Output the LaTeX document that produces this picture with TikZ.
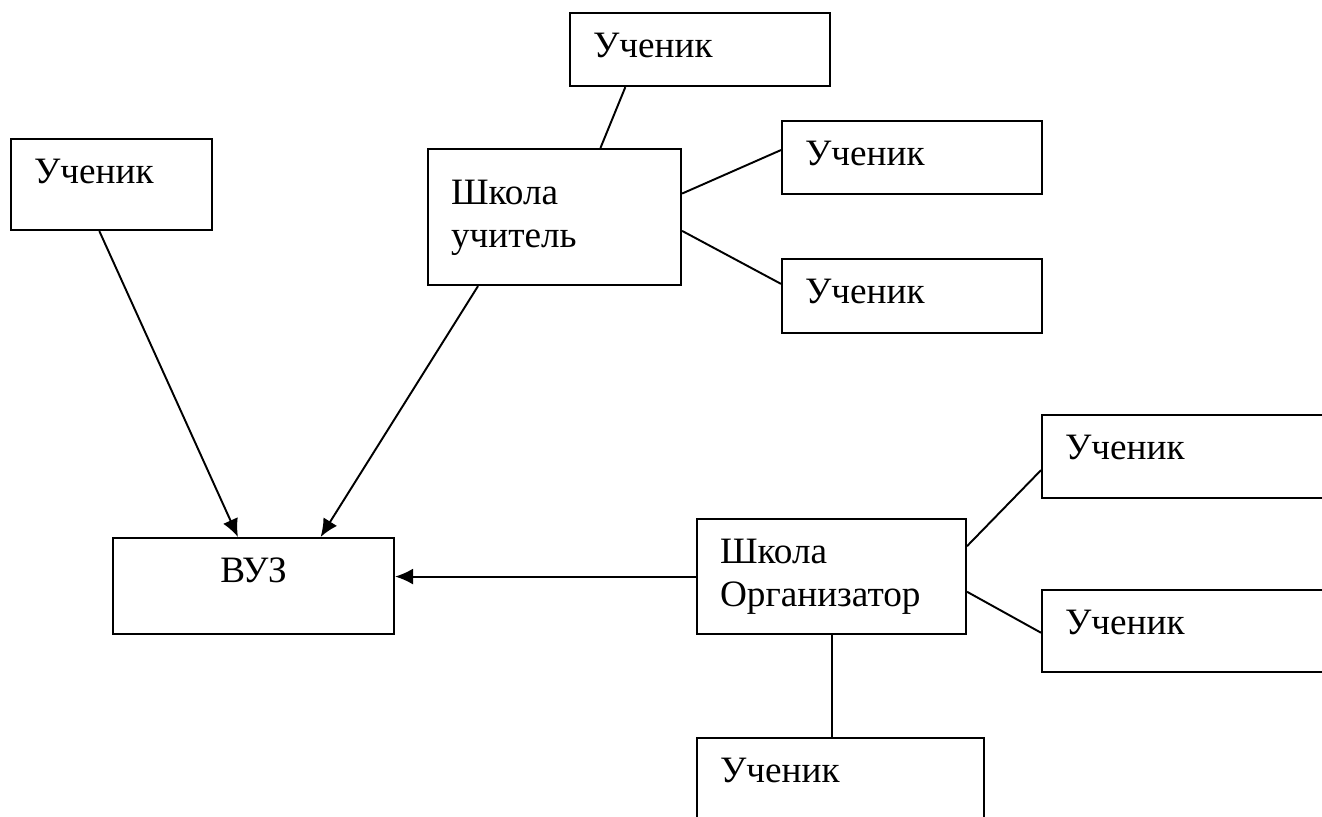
\documentclass[tikz,border=0pt]{standalone}
\usepackage{fontspec}
\setmainfont{Liberation Serif}
\usepackage{tikz}
\usetikzlibrary{calc,arrows.meta}

\begin{document}
\begin{tikzpicture}[x=0.02cm, y=-0.02cm,
    box/.style={draw, line width=1.2pt, anchor=north west, inner xsep=0.46cm, inner ysep=0pt,
        align=left, text height=0.88cm, font=\fontsize{21.2}{24.5}\selectfont},
    link/.style={line width=1.1pt},
    arr/.style={line width=1.1pt, -{Latex[length=0.36cm,width=0.32cm]}}]
        \useasboundingbox (0,0) rectangle (1322,816);
        \clip (0,0) rectangle (1322,816);

        \node[box, text width=4.28cm, text depth=0.58cm] (pTop) at (569,12) {Ученик};
        \node[box, text width=3.10cm, text depth=0.94cm] (pLeft) at (10,138) {Ученик};
        \node[box, text width=4.14cm, text height=1.10cm, text depth=1.62cm] (schT) at (427,148) {Школа\\учитель};
        \node[box, text width=4.28cm, text depth=0.58cm] (pT1) at (781,120) {Ученик};
        \node[box, text width=4.28cm, text depth=0.60cm] (pT2) at (781,258) {Ученик};

        \node[box, text width=4.70cm, text depth=1.04cm, align=center] (vuz) at (112,537) {ВУЗ};
        \node[box, text width=4.46cm, text depth=1.42cm] (schO) at (696,518) {Школа\\Организатор};
        \node[box, text width=5.08cm, text depth=0.78cm] (pO1) at (1041,414) {Ученик};
        \node[box, text width=5.08cm, text depth=0.76cm] (pO2) at (1041,589) {Ученик};
        \node[box, text width=4.82cm, text depth=1.12cm] (pO3) at (696,737) {Ученик};

        \draw[link] ($(pTop.south west)!.215!(pTop.south east)$) -- ($(schT.north west)!.68!(schT.north east)$);
        \draw[link] ($(schT.north east)!.33!(schT.south east)$) -- ($(pT1.north west)!.40!(pT1.south west)$);
        \draw[link] ($(schT.north east)!.60!(schT.south east)$) -- ($(pT2.north west)!.34!(pT2.south west)$);

        \draw[arr] ($(pLeft.south west)!.44!(pLeft.south east)$) -- ($(vuz.north west)!.445!(vuz.north east)$);
        \draw[arr] ($(schT.south west)!.20!(schT.south east)$) -- ($(vuz.north west)!.737!(vuz.north east)$);
        \draw[arr] (schO.west) -- (schO.west -| vuz.east);

        \draw[link] ($(schO.north east)!.24!(schO.south east)$) -- ($(pO1.north west)!.66!(pO1.south west)$);
        \draw[link] ($(schO.north east)!.63!(schO.south east)$) -- ($(pO2.north west)!.52!(pO2.south west)$);
        \draw[link] (schO.south) -- (schO.south |- pO3.north);
    \end{tikzpicture}
\end{document}
